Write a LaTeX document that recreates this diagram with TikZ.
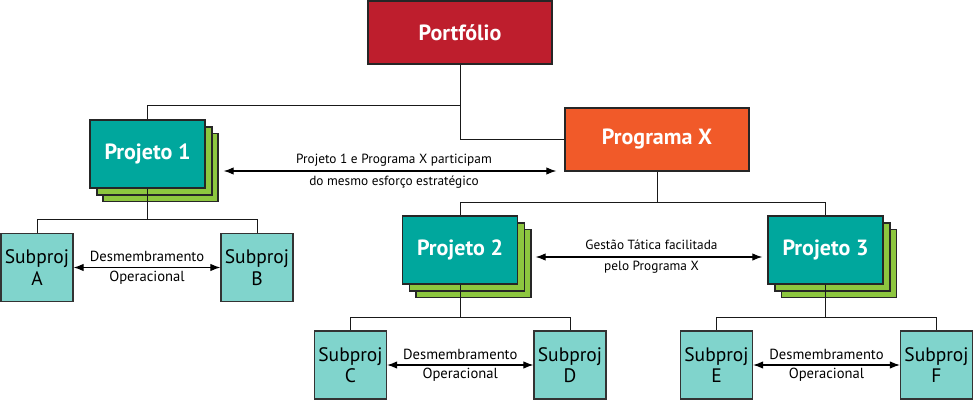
\documentclass[tikz,border=0pt]{standalone}
\usepackage{fontspec}
\setmainfont{PT Sans}
\usepackage{xcolor}
\usepackage{tikz}
\usetikzlibrary{arrows.meta,positioning,calc}

\definecolor{portred}{HTML}{BE1E2D}
\definecolor{progorange}{HTML}{F15A29}
\definecolor{projteal}{HTML}{00A79D}
\definecolor{layergreen}{HTML}{8DC63F}
\definecolor{subteal}{HTML}{80D4CC}

\begin{document}
\begin{tikzpicture}[x=1pt, y=-1pt,
  top/.style={rectangle, draw=black!85, line width=1.3pt, minimum width=184pt, minimum height=63pt, text=white, font=\fontsize{22}{26}\selectfont\bfseries},
  proj/.style={rectangle, draw=black!85, line width=1.3pt, fill=projteal, minimum width=115pt, minimum height=68pt, text=white, font=\fontsize{22}{26}\selectfont\bfseries},
  layer/.style={rectangle, draw=black!85, line width=1.3pt, fill=layergreen, minimum width=115pt, minimum height=68pt},
  sub/.style={rectangle, draw=black!80, line width=1.2pt, fill=subteal, minimum width=72pt, minimum height=68pt, align=center, inner sep=0pt, font=\fontsize{19.5}{21.5}\selectfont},
  tree/.style={draw, black!90, line width=0.8pt},
  line/.style={draw, {Latex[length=3.5mm,width=2.6mm]}-{Latex[length=3.5mm,width=2.6mm]}, line width=1.1pt},
  lab/.style={inner sep=0pt, text depth=3pt, font=\fontsize{13.3}{15}\selectfont},
  sublab/.style={lab, font=\fontsize{14.6}{16}\selectfont}]

  \useasboundingbox (0,0) rectangle (974,414);

  % top level
  \node [top, fill=portred] (port) at (460,32.5) {Portfólio};
  \node [top, fill=progorange] (progx) at (657,139.5) {Programa X};

  % project stacks
  \node [layer] (proj1c) at (160.5,167.5) {};
  \node [layer] (proj1b) at (154.5,161) {};
  \node [proj] (proj1) at (147.5,154) {Projeto 1};

  \node [layer] (proj2c) at (473.5,263.5) {};
  \node [layer] (proj2b) at (467,257) {};
  \node [proj] (proj2) at (460,250) {Projeto 2};

  \node [layer] (proj3c) at (839,263.5) {};
  \node [layer] (proj3b) at (832.5,257) {};
  \node [proj] (proj3) at (825.5,250) {Projeto 3};

  % subprojects
  \node [sub] (suba) at (37,267.5) {Subproj\\A};
  \node [sub] (subb) at (257,267.5) {Subproj\\B};
  \node [sub] (subc) at (350.5,365) {Subproj\\C};
  \node [sub] (subd) at (570,365) {Subproj\\D};
  \node [sub] (sube) at (716.5,365) {Subproj\\E};
  \node [sub] (subf) at (936.5,365) {Subproj\\F};

  % hierarchy
  \path [tree] (port.south) -- ++(0,41) -| (proj1.north);
  \path [tree] (port.south) |- (progx.west);
  \path [tree] (progx.south) -- ++(0,31) coordinate (jx) -| (proj2.north);
  \path [tree] (jx) -| (proj3.north);
  \path [tree] (proj1.south) -- ++(0,31) coordinate (j1) -| (suba.north);
  \path [tree] (j1) -| (subb.north);
  \path [tree] (proj2.south) -- ++(0,33) coordinate (j2) -| (subc.north);
  \path [tree] (j2) -| (subd.north);
  \path [tree] (proj3.south) -- ++(0,33) coordinate (j3) -| (sube.north);
  \path [tree] (j3) -| (subf.north);

  % relations
  \path (proj1c.east) ++(5,3.5) coordinate (e1);
  \path [line, shorten >=8pt] (e1) -- (e1 -| progx.west)
    node [lab, midway, above=4pt] {Projeto 1 e Programa X participam}
    node [lab, midway, below=4pt] {do mesmo esforço estratégico};
  \path (proj2c.east) ++(4,-6.5) coordinate (e2);
  \path [line, shorten >=5pt] (e2) -- (e2 -| proj3.west)
    node [lab, midway, above=4pt] {Gestão Tática facilitada}
    node [lab, midway, below=4pt] {pelo Programa X};
  \path [line] (suba.east) -- (subb.west)
    node [sublab, midway, above=2pt] {Desmembramento}
    node [sublab, midway, below=3pt] {Operacional};
  \path [line] (subc.east) -- (subd.west)
    node [sublab, midway, above=2pt] {Desmembramento}
    node [sublab, midway, below=3pt] {Operacional};
  \path [line] (sube.east) -- (subf.west)
    node [sublab, midway, above=2pt] {Desmembramento}
    node [sublab, midway, below=3pt] {Operacional};
\end{tikzpicture}
\end{document}
